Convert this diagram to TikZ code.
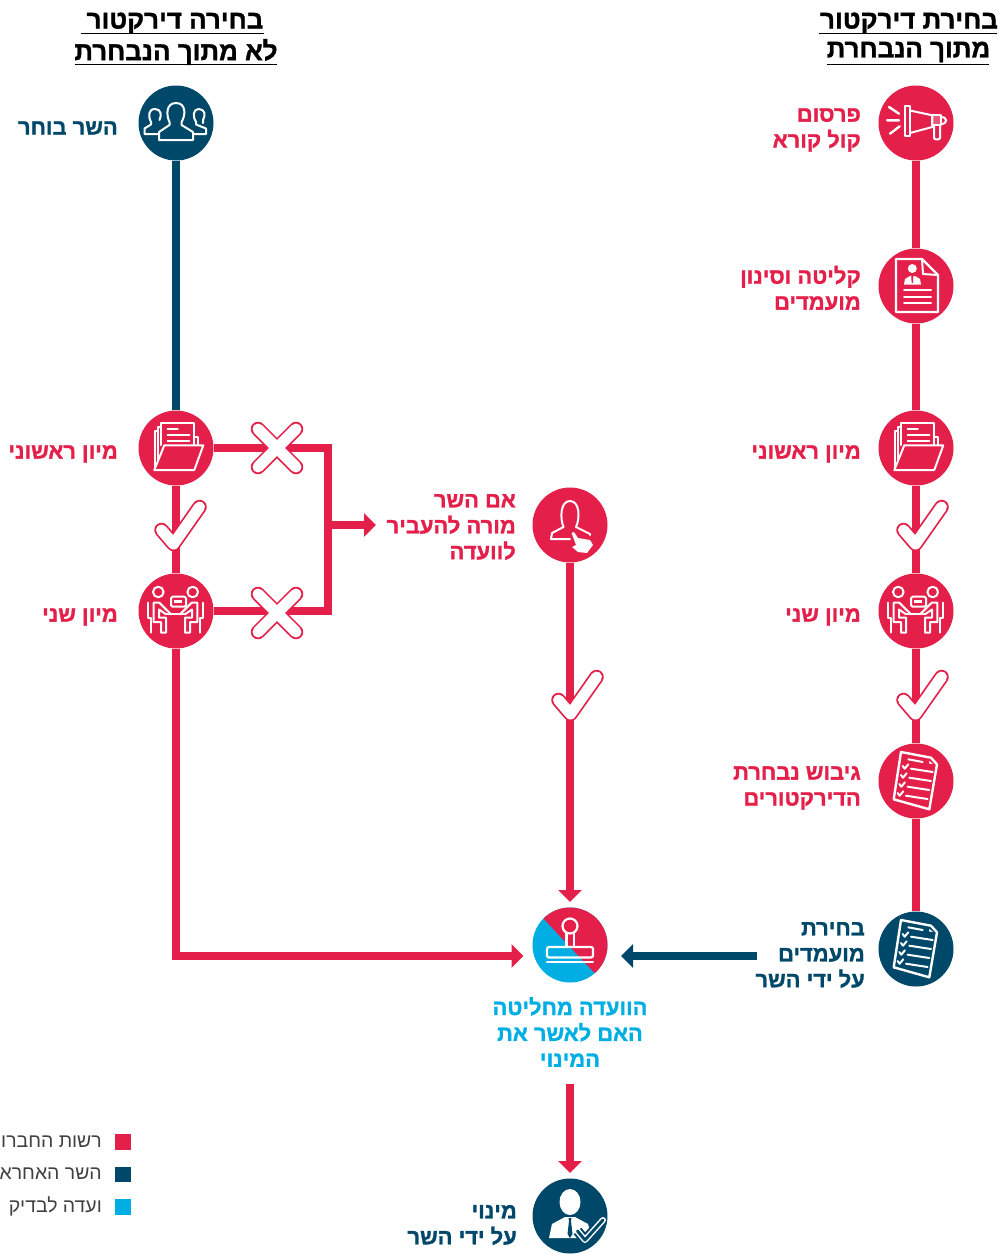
\documentclass[tikz,border=0pt]{standalone}
\usepackage{fontspec}
\usetikzlibrary{arrows.meta,calc}
\TeXXeTstate=1
\newfontfamily\hebf[Script=Hebrew,BoldFeatures={FakeBold=1.3}]{Liberation Sans}
\newcommand{\rl}[1]{\beginR #1\endR}
\definecolor{cred}{HTML}{E31F4A}
\definecolor{cnavy}{HTML}{004869}
\definecolor{ccyan}{HTML}{00AEE3}
\tikzset{
  x=1bp,y=-1bp,
  disc/.style={circle,minimum size=75bp,inner sep=0pt,fill=#1},
  lab/.style={font=\hebf\bfseries\fontsize{22}{26}\selectfont,text=#1,align=right,anchor=east,inner sep=0pt},
  clab/.style={font=\hebf\bfseries\fontsize{22}{26}\selectfont,text=#1,align=center,anchor=center,inner sep=0pt},
  head/.style={font=\hebf\bfseries\fontsize{26}{30}\selectfont,text=black,align=center,anchor=center,inner sep=0pt},
  legtext/.style={font=\hebf\fontsize{19.5}{22}\selectfont,text=black!75,anchor=east,inner sep=0pt},
  legsq/.style={rectangle,minimum size=15.5bp,inner sep=0pt,fill=#1},
  conn/.style={draw=#1,line width=8bp,line join=miter},
  arr/.style={draw=#1,line width=8bp,line join=miter,-{Triangle[length=12bp,width=23bp]}},
  ico/.style={draw=white,line width=2bp,line join=round,line cap=round},
  rule/.style={draw=black,line width=1.5bp},
  pics/okmark/.style={code={
    \draw[draw=cred,line width=14.5bp,line cap=round,line join=round] (-14,5)--(-2,19)--(24,-18);
    \draw[draw=white,line width=11bp,line cap=round,line join=round] (-14,5)--(-2,19)--(24,-18);
  }},
  pics/nomark/.style={code={
    \draw[draw=cred,line width=14.5bp,line cap=round] (-19,-19)--(19,19) (-19,19)--(19,-19);
    \draw[draw=white,line width=11bp,line cap=round] (-19,-19)--(19,19) (-19,19)--(19,-19);
  }},
  pics/megaphone/.style={code={
    \draw[ico] (-11.3,-16.7) rectangle (-6,13.3);
    \draw[ico] (-6,-12.5)--(16.3,-7.7)--(16.3,4)--(-6,10);
    \draw[ico,fill=white,fill opacity=.25] (16.3,-7.7) rectangle (24.7,2.3);
    \draw[ico] (24.7,-6) .. controls (32,-6) and (32,1) .. (24.7,1);
    \draw[ico] (18,3.5)--(18,15) .. controls (18,17) and (24,17) .. (24,15)--(24,3);
    \draw[ico,line width=2.4bp] (-27,-16)--(-17,-9.3) (-29,-2.7)--(-17,-2.7) (-26,10.7)--(-16.3,3.3);
  }},
  pics/cvdoc/.style={code={
    \draw[ico,line width=2.4bp] (-20,-27)--(6,-27)--(22,-11)--(22,26)--(-20,26)--cycle;
    \draw[ico] (6,-27)--(7,-12)--(22,-11);
    \fill[white] (-3.7,-17.5) circle (4.5);
    \fill[white] (-12,-1.5)--(-11,-7)--(-6,-10)--(-1,-10)--(4,-7)--(5,-1.5)--cycle;
    \fill[cred] (-4.7,-10)--(-2.7,-10)--(-3,-3)--(-4.4,-3)--cycle;
    \draw[ico] (-12,4)--(15,4) (-12,10.7)--(15,10.7) (-12,17.3)--(15,17.3);
  }},
  pics/folder/.style={code={
    \draw[ico] (-15,-3)--(-15,-25.5)--(18,-25.5)--(18,-3);
    \draw[ico,line width=1.2bp] (-18,14)--(-18,-21)--(-15,-21) (-21,20)--(-21,-17)--(-18,-17);
    \draw[ico] (18,-11)--(22.3,-11)--(22.3,-2.7);
    \draw[ico,line width=2.2bp] (-8.3,-18.7)--(1.7,-18.7) (-8.3,-12.7)--(13.3,-12.7) (-8.3,-7)--(13.3,-7);
    \draw[ico,fill=cred] (-21.7,22)--(18.3,22)--(27.3,-2.7)--(-11.7,-2.7)--cycle;
  }},
  pics/meeting/.style={code={
    \begin{scope}[ico]
    \draw (-17.7,-19) circle (5.3) (16.7,-19) circle (5.3);
    \draw[rounded corners=1.5bp] (-5,-14.3) rectangle (10,-4.3);
    \fill[white] (-2,-11.5) rectangle (6,-8.5);
    \draw (-10,3.3)--(8,3.3);
    \draw (-28,-8.3)--(-28,6.7)--(-25.3,6.7)--(-25.3,21.7);
    \draw (-22.3,11)--(-22.3,-8.3)--(-16.7,-8.3)--(-5,3.3);
    \draw (-22.3,11)--(-15,11)--(-15,21.7)--(-10,21.7)--(-10,6.7)--(-17,6.7)--(-17,-1.5)--(-10,3.3);
    \draw (27,-8.3)--(27,6.7)--(24.3,6.7)--(24.3,21.7);
    \draw (21.3,11)--(21.3,-8.3)--(15.7,-8.3)--(4,3.3);
    \draw (21.3,11)--(14,11)--(14,21.7)--(9,21.7)--(9,6.7)--(16,6.7)--(16,-1.5)--(9,3.3);
    \end{scope}
  }},
  pics/checklist/.style={code={
    \draw[ico,line width=2.4bp] (-15,-29)--(15,-23.3)--(21,-16.7)--(13.3,28.3)--(-22.3,18.3)--cycle;
    \fill[white] (13.5,-20)--(17,-17)--(13,-17.5)--cycle;
    \draw[ico,line width=2bp] (-7.7,-21.7)--(6.7,-19);
    \foreach \k in {0,1,2,3}{
      \draw[ico,line width=2bp] ({-5-1.7*\k},{-12.3+9*\k})--({16.7-1.7*\k},{-9+9*\k});
      \draw[ico,line width=2bp] ({-13.3-1.7*\k},{-15+9*\k})--({-11.3-1.7*\k},{-12.3+9*\k})--({-7.7-1.7*\k},{-16.7+9*\k});
    }
  }},
  pics/group/.style={code={
    \draw[ico] (-6.5,-1) .. controls (-10,-8) and (-10,-20) .. (0,-20) .. controls (10,-20) and (10,-8) .. (5.5,-1) -- (5.5,2) -- (17,9) -- (17,17) -- (-17,17) -- (-17,9) -- (-6.5,2) -- cycle;
    \draw[ico] (-18.5,11) -- (-31.5,11) -- (-31.5,5.5) -- (-25,1.5) -- (-25,-1) .. controls (-28,-6) and (-28,-14) .. (-21,-14) .. controls (-15,-14) and (-14,-8) .. (-16.5,-3);
    \draw[ico] (18.5,11) -- (30,11) -- (30,5.5) -- (20,1.5) -- (20,-1) .. controls (16.5,-6) and (17,-14) .. (22.5,-14) .. controls (29,-14) and (30,-8) .. (27,-3) -- (27,0);
  }},
  pics/handbust/.style={code={
    \draw[ico] (-6.5,2) .. controls (-10,-6) and (-10,-24) .. (0,-24) .. controls (10,-24) and (10,-6) .. (6,2) -- (20,9) -- (20,10);
    \draw[ico] (-6.5,2) -- (-18,8) -- (-19,14) -- (0,14);
    \fill[white] (1.5,8)--(4,7)--(8,13)--(20,15)--(23,20)--(17,28)--(8,27)--(2,22)--(6,20)--cycle;
  }},
  pics/stamp/.style={code={
    \draw[ico,line width=2.2bp] (0,-19) circle (7.5);
    \draw[ico,line width=2.2bp] (-3.5,-12)--(-3.5,2) (4,-12)--(4,2);
    \draw[ico,line width=2.2bp,rounded corners=2bp] (-23,2) rectangle (23,12.5);
    \draw[ico,line width=2.2bp] (-23,17.3)--(23,17.3);
  }},
  pics/official/.style={code={
    \fill[white] (0,-14) ellipse (10.5 and 13);
    \fill[white] (-21,22)--(-18,8)--(-5,1)--(5,1)--(18,8)--(22,22)--cycle;
    \fill[cnavy] (-1.5,2)--(1.5,2)--(1,5)--(2.5,18)--(0,22)--(-2.5,18)--(-1,5)--cycle;
    \draw[draw=cnavy,line width=10bp,line join=round] (7.5,15)--(15,24)--(33,4);
    \draw[draw=white,line width=6bp,line join=round,line cap=round] (7.5,15)--(15,24)--(33,4);
    \draw[draw=cnavy,line width=3bp,line join=round,line cap=round] (7.5,15)--(15,24)--(33,4);
  }}
}
\begin{document}
\begin{tikzpicture}
\useasboundingbox (0,0) rectangle (1004,1254);
% headers
\node[head] (h1) at (909,23) {\rl{בחירת דירקטור}};
\node[head] (h2) at (908.5,52) {\rl{מתוך הנבחרת}};
\node[head] (h3) at (175,23) {\rl{בחירה דירקטור}};
\node[head] (h4) at (176,52) {\rl{לא מתוך הנבחרת}};
\draw[rule] (819,33.5)--(997,33.5);
\draw[rule] (827,64.5)--(989,64.5);
\draw[rule] (81,33.5)--(264,33.5);
\draw[rule] (75,64.5)--(277,64.5);
% discs
\node[disc=cred] (r1) at (916,123) {};
\node[disc=cred] (r2) at (916,286) {};
\node[disc=cred] (r3) at (916,448) {};
\node[disc=cred] (r4) at (916,611) {};
\node[disc=cred] (r5) at (916,781) {};
\node[disc=cnavy] (r6) at (916,949) {};
\node[disc=cnavy] (l1) at (176,123) {};
\node[disc=cred] (l3) at (176,448) {};
\node[disc=cred] (l4) at (176,611) {};
\node[disc=cred] (m1) at (570,525) {};
\node[disc=ccyan] (m2) at (570,945) {};
\node[disc=cnavy] (m3) at (570,1216) {};
\begin{scope}
\clip (570,945) circle (37.5);
\fill[cred] (540,915)--(541.5,916.5)--(593.5,972)--(620,990)--(620,890)--(540,890)--cycle;
\end{scope}
% connectors
\draw[conn=cred] (r1)--(r2);
\draw[conn=cred] (r2)--(r3);
\draw[conn=cred] (r3)--(r4);
\draw[conn=cred] (r4)--(r5);
\draw[conn=cred] (r5)--(r6);
\draw[conn=cnavy] (l1)--(l3);
\draw[conn=cred] (l3)--(l4);
\coordinate (ca) at (328,448);
\coordinate (cb) at (328,611);
\coordinate (cc) at (328,525);
\coordinate (ct) at (376,525);
\draw[conn=cred] (l3)--(ca)--(cb)--(l4);
\draw[arr=cred] (cc)--(ct);
\coordinate (dtop) at (570,902);
\draw[arr=cred] (m1)--(dtop);
\coordinate (ea) at (176,956);
\coordinate (eb) at (523.5,956);
\draw[arr=cred] (l4)--(ea)--(eb);
\coordinate (fa) at (757,956);
\coordinate (fb) at (621,956);
\draw[arr=cnavy] (fa)--(fb);
\coordinate (ga) at (570,1084);
\coordinate (gb) at (570,1173);
\draw[arr=cred] (ga)--(gb);
% marks
\pic at (175.5,525) {okmark};
\pic at (572.5,695) {okmark};
\pic at (917.5,525) {okmark};
\pic at (917.5,695) {okmark};
\pic at (277,448) {nomark};
\pic at (277,613) {nomark};
% icons
\pic at (r1) {megaphone};
\pic at (r2) {cvdoc};
\pic at (r3) {folder};
\pic at (r4) {meeting};
\pic at (r5) {checklist};
\pic at (r6) {checklist};
\pic at (l1) {group};
\pic at (l3) {folder};
\pic at (l4) {meeting};
\pic at (m1) {handbust};
\pic at (m2) {stamp};
\pic at (m3) {official};
% labels
\node[lab=cred] (t1) at (861,130) {\rl{פרסום}\\\rl{קול קורא}};
\node[lab=cred] (t2) at (861,288) {\rl{קליטה וסינון}\\\rl{מועמדים}};
\node[lab=cred] (t3) at (861,454) {\rl{מיון ראשוני}};
\node[lab=cred] (t4) at (861,617) {\rl{מיון שני}};
\node[lab=cred] (t5) at (861,788) {\rl{גיבוש נבחרת}\\\rl{הדירקטורים}};
\node[lab=cnavy] (t6) at (865,955) {\rl{בחירת}\\\rl{מועמדים}\\\rl{על ידי השר}};
\node[lab=cnavy] (t7) at (118,128) {\rl{השר בוחר}};
\node[lab=cred] (t8) at (118,454) {\rl{מיון ראשוני}};
\node[lab=cred] (t9) at (118,617) {\rl{מיון שני}};
\node[lab=cred] (t10) at (516,527) {\rl{אם השר}\\\rl{מורה להעביר}\\\rl{לוועדה}};
\node[clab=ccyan] (t11) at (570,1032) {\rl{הוועדה מחליטה}\\\rl{האם לאשר את}\\\rl{המינוי}};
\node[lab=cnavy] (t12) at (517,1225) {\rl{מינוי}\\\rl{על ידי השר}};
% legend
\node[legsq=cred] (k1) at (123,1142) {};
\node[legsq=cnavy] (k2) at (123,1174.5) {};
\node[legsq=ccyan] (k3) at (123,1207) {};
\node[legtext] (k1t) at (102,1142) {\rl{רשות החברו}};
\node[legtext] (k2t) at (102,1174) {\rl{השר האחרא}};
\node[legtext] (k3t) at (102,1206) {\rl{ועדה לבדיק}};
\end{tikzpicture}
\end{document}
